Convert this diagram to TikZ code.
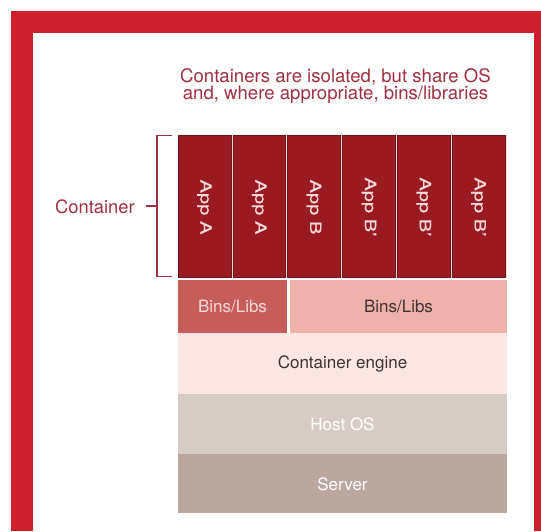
\documentclass[tikz,border=0pt]{standalone}
\usepackage{fontspec}
\usepackage{graphicx}
\setmainfont{TeX Gyre Heros}
\definecolor{framered}{HTML}{CC1F2B}
\definecolor{labelred}{HTML}{A0303F}
\definecolor{appfill}{HTML}{9A1A21}
\definecolor{appedge}{HTML}{6E1518}
\definecolor{apptext}{HTML}{F7D9D9}
\definecolor{gapfill}{HTML}{F3D3D3}
\definecolor{binsdark}{HTML}{C65D5A}
\definecolor{binslight}{HTML}{EFB2AA}
\definecolor{enginefill}{HTML}{FCE6E3}
\definecolor{hostfill}{HTML}{D7CBC5}
\definecolor{serverfill}{HTML}{BAA79D}
\definecolor{darktext}{HTML}{3E3232}
\tikzset{
  layer/.style={draw=none, inner sep=0pt, font=\fontsize{17}{20}\selectfont},
  appbox/.style={fill=appfill, draw=appedge, line width=0.6pt},
  applabel/.style={rotate=-90, text=apptext, inner sep=0pt,
    font=\fontsize{15.5}{18}\selectfont\addfontfeature{FakeBold=0.5}},
  titletext/.style={text=labelred, inner sep=0pt, anchor=base,
    font=\fontsize{18.6}{22}\selectfont},
  bracketline/.style={draw=labelred, line width=1.3pt}
}
\begin{document}
\begin{tikzpicture}[x=1pt, y=-1pt]
\useasboundingbox (0,0) rectangle (541,531);
% frame
\fill[white] (0,0) rectangle (541,531);
\fill[framered] (10.5,10.5) rectangle (541,531);
\fill[white] (33,33) rectangle (533.5,531);

% heading
\node[titletext] (title1) at (335.5,82.5) {Containers are isolated, but share OS};
\node[titletext] (title2) at (335.5,99.5) {and, where appropriate, bins/libraries};

% application columns
\fill[gapfill] (178,135) rectangle (507,277);
\foreach \i/\t in {0/App A,1/App A,2/App B,3/App B',4/App B',5/App B'} {
  \pgfmathsetmacro{\xa}{178+\i*54.83}
  \pgfmathsetmacro{\xb}{\xa+52.8}
  \path[appbox] (\xa,135) rectangle (\xb,277);
  \node[applabel] (app\i) at ({(\xa+\xb)/2},207) {\scalebox{1.3}[1]{\t}};
}

% shared layers
\fill[binsdark] (178,280) rectangle (287,333);
\node[layer, text=apptext] (binsA) at (232.5,306.5) {Bins/Libs};
\fill[binslight] (290,280) rectangle (507,333);
\node[layer, text=darktext] (binsB) at (398.5,306.5) {Bins/Libs};
\fill[enginefill] (178,333) rectangle (507,394);
\node[layer, text=darktext] (engine) at (342.5,364) {Container engine};
\fill[hostfill] (178,394) rectangle (507,454);
\node[layer, text=white] (host) at (342.5,424) {Host OS};
\fill[serverfill] (178,454) rectangle (507,513);
\node[layer, text=white] (server) at (342.5,484) {Server};

% container bracket
\coordinate (btop) at (172,135.5);
\coordinate (bbot) at (172,276.5);
\coordinate (bmid) at (157,206);
\draw[bracketline] (btop) -- (157,135.5) -- (157,276.5) -- (bbot);
\node[text=labelred, inner sep=0pt, anchor=base east,
  font=\fontsize{18.4}{22}\selectfont] (clabel) at (135,213) {Container};
\draw[bracketline] (146,206) -- (bmid);
\end{tikzpicture}
\end{document}
